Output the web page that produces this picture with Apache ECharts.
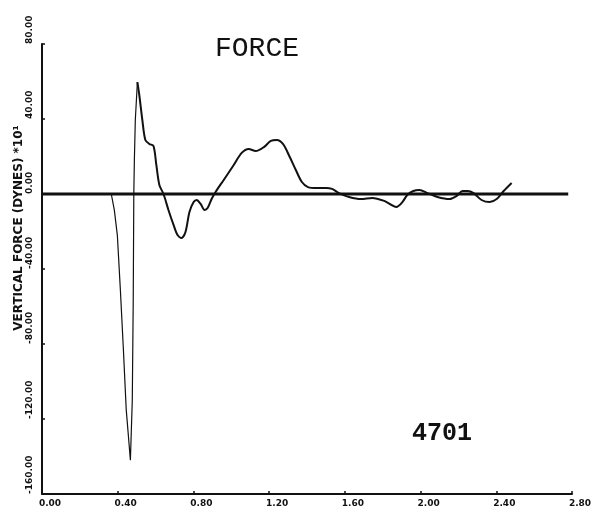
<!DOCTYPE html>
<html>
<head>
<meta charset="utf-8">
<script src="https://cdn.jsdelivr.net/npm/echarts@6/dist/echarts.min.js"></script>
<style>
  html, body { margin: 0; padding: 0; background: #fff; }
  #chart { width: 599px; height: 522px; }
</style>
</head>
<body>
<div id="chart"></div>
<script>
// Time axis (s) and vertical force (dynes x10^1) of test 4701
const timeValues = [
  0.366, 0.382, 0.398, 0.414, 0.430, 0.445, 0.467, 0.477, 0.482, 0.485, 0.488, 0.493, 0.504,
  0.514, 0.530, 0.546, 0.567, 0.589, 0.604, 0.620, 0.642, 0.668, 0.695, 0.716, 0.737, 0.758,
  0.779, 0.801, 0.817, 0.838, 0.859, 0.875, 0.896, 0.917, 0.960, 1.013, 1.055, 1.092, 1.129,
  1.172, 1.209, 1.241, 1.273, 1.304, 1.341, 1.373, 1.405, 1.453, 1.501, 1.532, 1.569, 1.622,
  1.686, 1.744, 1.808, 1.872, 1.904, 1.930, 1.962, 1.994, 2.036, 2.089, 2.153, 2.190, 2.222,
  2.248, 2.280, 2.322, 2.365, 2.402, 2.439, 2.481
];
const forceValues = [
  0.0, -8.5, -21.9, -51.0, -83.0, -115.0, -142.0, -110.0, -56.5, 0.0, 18.0, 39.5, 59.7,
  52.8, 39.5, 28.8, 26.7, 25.6, 15.5, 4.8, 0.0, -8.5, -16.5, -21.9, -23.5, -20.3,
  -9.6, -4.3, -3.2, -5.3, -8.5, -7.5, -2.7, 1.1, 7.5, 15.5, 21.9, 24.0, 22.9,
  25.0, 28.3, 28.8, 26.7, 20.8, 12.8, 6.4, 3.7, 3.2, 3.2, 2.7, 0.5, -1.6,
  -2.7, -2.1, -3.7, -6.9, -4.3, -0.5, 1.6, 2.1, 0.5, -1.6, -2.7, -1.1, 1.6,
  1.6, 0.5, -3.2, -4.3, -2.7, 1.6, 5.9
];
// Index of the impact peak: the fast pen stroke before it is drawn thinner
const peakIndex = 12;

// Zero reference line
const baselineTime = [0.0, 2.78];
const baselineForce = [0, 0];

// Axis ticks
const xTickLabels = ['0.00', '0.40', '0.80', '1.20', '1.60', '2.00', '2.40', '2.80'];
const yTickLabels = ['-160.00', '-120.00', '-80.00', '-40.00', '0.00', '40.00', '80.00'];

const chartTitle = 'FORCE';
const yAxisTitle = 'VERTICAL FORCE (DYNES) *10\u00B9';
const runLabel = '4701';

const pairs = (xs, ys) => xs.map((x, i) => [x, ys[i]]);
const allPoints = pairs(timeValues, forceValues);

const chart = echarts.init(document.getElementById('chart'));
const labelFont = '"DejaVu Sans", sans-serif';

chart.setOption({
  backgroundColor: '#fff',
  animation: false,
  title: {
    text: chartTitle,
    left: 210,
    top: 30,
    textStyle: { fontFamily: '"Liberation Mono", monospace', fontSize: 28, fontWeight: 'normal', color: '#111' }
  },
  grid: { left: 42, right: 27, top: 44, bottom: 28 },
  xAxis: {
    type: 'value',
    min: 0, max: 2.8, interval: 0.4,
    axisLine: { show: true, onZero: false, lineStyle: { color: '#111', width: 2 } },
    axisTick: { show: true, inside: true, length: 3, lineStyle: { color: '#111', width: 1.5 } },
    splitLine: { show: false },
    axisLabel: {
      margin: 5,
      padding: [0, 0, 0, 16],
      fontFamily: labelFont, fontSize: 9, fontWeight: 'bold', color: '#111',
      formatter: (v) => xTickLabels[Math.round(v / 0.4)]
    }
  },
  yAxis: {
    type: 'value',
    min: -160, max: 80, interval: 40,
    axisLine: { show: true, onZero: false, lineStyle: { color: '#111', width: 2 } },
    axisTick: { show: true, inside: true, length: 3, lineStyle: { color: '#111', width: 1.5 } },
    splitLine: { show: false },
    axisLabel: {
      rotate: 90,
      align: 'left',
      margin: 8,
      fontFamily: labelFont, fontSize: 9, fontWeight: 'bold', color: '#111',
      formatter: (v) => yTickLabels[Math.round((v + 160) / 40)]
    }
  },
  graphic: [
    {
      type: 'text',
      x: 19, y: 228,
      rotation: Math.PI / 2,
      style: {
        text: yAxisTitle,
        fontFamily: labelFont, fontSize: 12, fontWeight: 'bold', fill: '#111',
        align: 'center', verticalAlign: 'middle'
      }
    },
    {
      type: 'text',
      x: 412, y: 421,
      style: {
        text: runLabel,
        fontFamily: '"Liberation Mono", monospace', fontSize: 25, fontWeight: 'bold', fill: '#111'
      }
    }
  ],
  series: [
    {
      name: 'baseline',
      type: 'line',
      data: pairs(baselineTime, baselineForce),
      symbol: 'none',
      lineStyle: { color: '#111', width: 3 },
      z: 1
    },
    {
      name: 'impact stroke',
      type: 'line',
      data: allPoints.slice(0, peakIndex + 1),
      symbol: 'none',
      lineStyle: { color: '#111', width: 1.2 },
      z: 2
    },
    {
      name: 'force',
      type: 'line',
      data: allPoints.slice(peakIndex),
      symbol: 'none',
      smooth: 0.3,
      lineStyle: { color: '#111', width: 2 },
      z: 2
    }
  ]
});
</script>
</body>
</html>
